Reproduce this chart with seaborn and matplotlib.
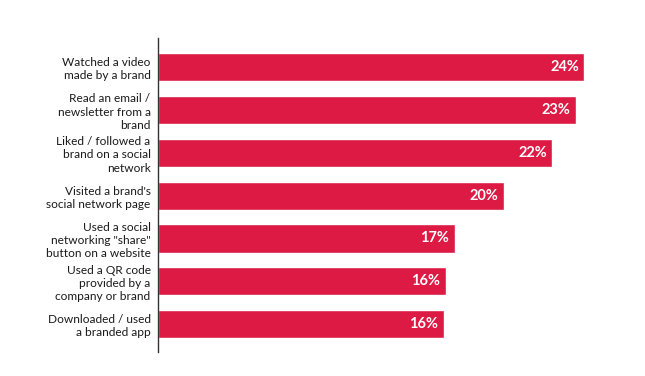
import matplotlib
matplotlib.use('Agg')
import matplotlib.pyplot as plt
import seaborn as sns
import pandas as pd

# Dados
activities = [
    'Watched a video\nmade by a brand',
    'Read an email /\nnewsletter from a\nbrand',
    'Liked / followed a\nbrand on a social\nnetwork',
    "Visited a brand's\nsocial network page",
    'Used a social\nnetworking "share"\nbutton on a website',
    'Used a QR code\nprovided by a\ncompany or brand',
    'Downloaded / used\na branded app',
]
shares = [24.0, 23.5, 22.2, 19.5, 16.7, 16.2, 16.1]
share_labels = ['24%', '23%', '22%', '20%', '17%', '16%', '16%']

df = pd.DataFrame({'activity': activities, 'share': shares})

sns.set_style('white')
plt.rcParams['font.family'] = ['Lato', 'DejaVu Sans']

fig = plt.figure(figsize=(6.45, 3.76), dpi=100)
ax = fig.add_axes([157.5 / 645, 1 - 352 / 376, 487.5 / 645, 314 / 376])

sns.barplot(data=df, x='share', y='activity', color='#DC1A44', width=0.66,
            saturation=1, ax=ax)

ax.set_xlim(0, 487.5 / 17.79)
ax.set_ylim(6.65, -0.68)
ax.set_xlabel('')
ax.set_ylabel('')
ax.set_xticks([])
ax.tick_params(axis='y', length=0, pad=5, labelsize=8.6, labelcolor='#1a1a1a')
for lbl in ax.get_yticklabels():
    lbl.set_multialignment('right')
    lbl.set_linespacing(1.25)

for s in ['top', 'right', 'bottom']:
    ax.spines[s].set_visible(False)
ax.spines['left'].set_color('#333333')
ax.spines['left'].set_linewidth(1)

# Rótulos dentro das barras
for i, (v, t) in enumerate(zip(shares, share_labels)):
    ax.annotate(t, xy=(v, i), xytext=(-4, 0), textcoords='offset points',
                ha='right', va='center', color='white', fontsize=10.5,
                fontweight='bold')

fig.savefig('out.png', dpi=100)
